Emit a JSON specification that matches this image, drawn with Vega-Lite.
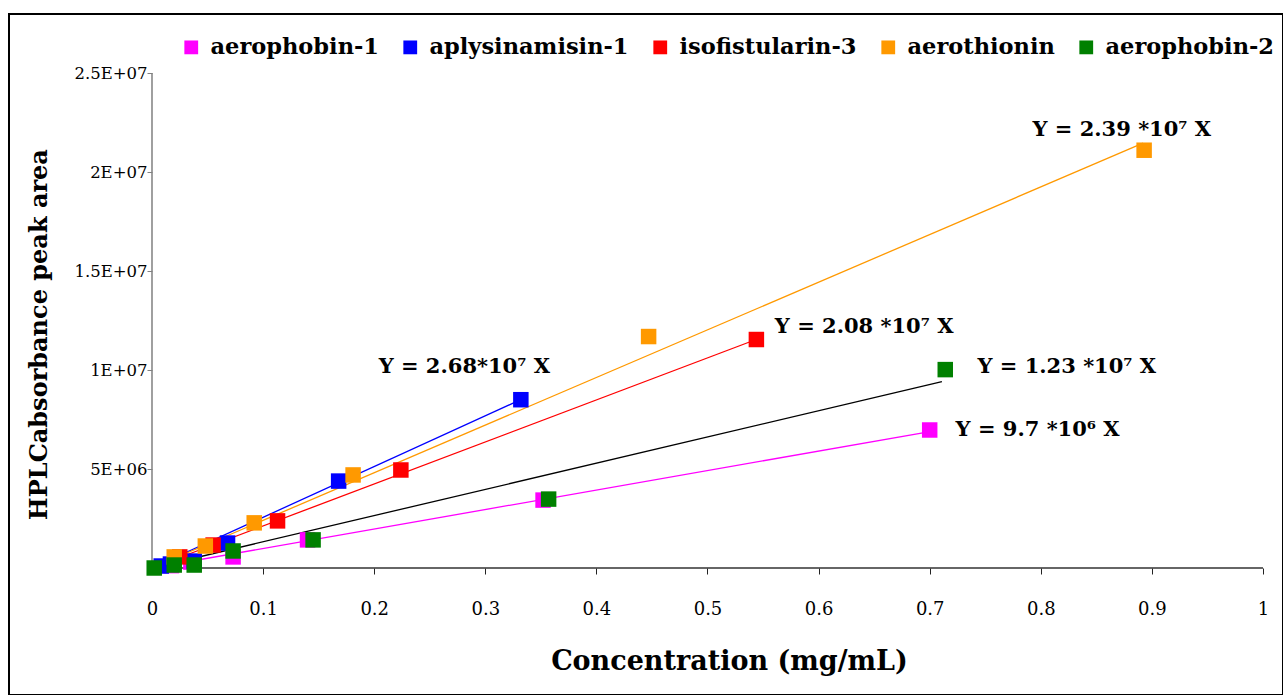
{
  "$schema": "https://vega.github.io/schema/vega-lite/v6.json",
  "width": 1274,
  "height": 681,
  "autosize": {"type": "none"},
  "padding": {"left": 9, "top": 14, "right": 0, "bottom": 0},
  "background": "#ffffff",
  "config": {
    "view": {"stroke": "#000000", "strokeWidth": 2},
    "font": "DejaVu Serif"
  },
  "datasets": {
    "points": [
      {"series": "aerophobin-1", "conc": 0.70, "area": 6970000},
      {"series": "aerophobin-1", "conc": 0.352, "area": 3430000},
      {"series": "aerophobin-1", "conc": 0.14, "area": 1420000},
      {"series": "aerophobin-1", "conc": 0.073, "area": 560000},
      {"series": "aerophobin-1", "conc": 0.035, "area": 300000},
      {"series": "aerophobin-1", "conc": 0.0175, "area": 120000},
      {"series": "aplysinamisin-1", "conc": 0.332, "area": 8500000},
      {"series": "aplysinamisin-1", "conc": 0.168, "area": 4390000},
      {"series": "aplysinamisin-1", "conc": 0.068, "area": 1260000},
      {"series": "aplysinamisin-1", "conc": 0.038, "area": 350000},
      {"series": "aplysinamisin-1", "conc": 0.0166, "area": 200000},
      {"series": "aplysinamisin-1", "conc": 0.0083, "area": 100000},
      {"series": "isofistularin-3", "conc": 0.544, "area": 11540000},
      {"series": "isofistularin-3", "conc": 0.224, "area": 4950000},
      {"series": "isofistularin-3", "conc": 0.113, "area": 2380000},
      {"series": "isofistularin-3", "conc": 0.055, "area": 1160000},
      {"series": "isofistularin-3", "conc": 0.025, "area": 560000},
      {"series": "aerothionin", "conc": 0.893, "area": 21100000},
      {"series": "aerothionin", "conc": 0.447, "area": 11690000},
      {"series": "aerothionin", "conc": 0.181, "area": 4700000},
      {"series": "aerothionin", "conc": 0.092, "area": 2280000},
      {"series": "aerothionin", "conc": 0.048, "area": 1110000},
      {"series": "aerothionin", "conc": 0.02, "area": 560000},
      {"series": "aerophobin-2", "conc": 0.714, "area": 10020000},
      {"series": "aerophobin-2", "conc": 0.357, "area": 3480000},
      {"series": "aerophobin-2", "conc": 0.145, "area": 1420000},
      {"series": "aerophobin-2", "conc": 0.073, "area": 860000},
      {"series": "aerophobin-2", "conc": 0.038, "area": 150000},
      {"series": "aerophobin-2", "conc": 0.02, "area": 150000},
      {"series": "aerophobin-2", "conc": 0.002, "area": 0}
    ],
    "fits": [
      {"fit": "aerophobin-1", "conc": 0, "area": 0},
      {"fit": "aerophobin-1", "conc": 0.699, "area": 6880000},
      {"fit": "aplysinamisin-1", "conc": 0, "area": 0},
      {"fit": "aplysinamisin-1", "conc": 0.326, "area": 8350000},
      {"fit": "isofistularin-3", "conc": 0, "area": 0},
      {"fit": "isofistularin-3", "conc": 0.539, "area": 11440000},
      {"fit": "aerothionin", "conc": 0, "area": 0},
      {"fit": "aerothionin", "conc": 0.892, "area": 21460000},
      {"fit": "aerophobin-2", "conc": 0, "area": 0},
      {"fit": "aerophobin-2", "conc": 0.711, "area": 9410000}
    ],
    "equations": [
      {"label": "Y = 2.39 *10⁷ X", "conc": 0.7925, "area": 22100000},
      {"label": "Y = 2.08 *10⁷ X", "conc": 0.5606, "area": 12150000},
      {"label": "Y = 2.68*10⁷ X", "conc": 0.204, "area": 10170000},
      {"label": "Y = 1.23 *10⁷ X", "conc": 0.743, "area": 10170000},
      {"label": "Y = 9.7 *10⁶ X", "conc": 0.7233, "area": 6980000}
    ],
    "xline": [{"x": 0, "x2": 1, "y": 0}],
    "yline": [{"x": 0, "y": 0, "y2": 25000000}]
  },
  "encoding": {
    "x": {
      "field": "conc",
      "type": "quantitative",
      "scale": {"domain": [-0.12871, 1.018], "nice": false, "zero": false},
      "axis": {
        "orient": "bottom",
        "offset": -127,
        "values": [0, 0.1, 0.2, 0.3, 0.4, 0.5, 0.6, 0.7, 0.8, 0.9, 1],
        "format": "~g",
        "domain": false,
        "grid": false,
        "ticks": true,
        "tickSize": 6,
        "tickColor": "#222222",
        "labelFont": "DejaVu Serif",
        "labelFontSize": 18,
        "labelColor": "#000000",
        "labelPadding": 26,
        "title": "Concentration (mg/mL)",
        "titleFont": "DejaVu Serif",
        "titleFontWeight": "bold",
        "titleFontSize": 27,
        "titleColor": "#000000",
        "titlePadding": 30,
        "titleX": 720
      }
    },
    "y": {
      "field": "area",
      "type": "quantitative",
      "scale": {"domain": [-6414000, 27980000], "nice": false, "zero": false},
      "axis": {
        "orient": "left",
        "offset": -143,
        "values": [5000000, 10000000, 15000000, 20000000, 25000000],
        "labelExpr": "upper(replace(format(datum.value, '~e'), '+', '+0'))",
        "domain": false,
        "grid": false,
        "tickSize": 5,
        "tickColor": "#808080",
        "labelFont": "DejaVu Serif",
        "labelFontSize": 16.5,
        "labelColor": "#000000",
        "labelPadding": 0,
        "title": "HPLCabsorbance peak area",
        "titleFont": "DejaVu Serif",
        "titleFontWeight": "bold",
        "titleFontSize": 24,
        "titleColor": "#000000",
        "titlePadding": 22,
        "titleY": 320
      }
    }
  },
  "layer": [
    {
      "data": {"name": "xline"},
      "mark": {"type": "rule", "strokeWidth": 1.5, "color": "#333333"},
      "encoding": {
        "x": {"field": "x", "type": "quantitative"},
        "x2": {"field": "x2"},
        "y": {"field": "y", "type": "quantitative"}
      }
    },
    {
      "data": {"name": "yline"},
      "mark": {"type": "rule", "strokeWidth": 1.5, "color": "#808080"},
      "encoding": {
        "x": {"field": "x", "type": "quantitative"},
        "y": {"field": "y", "type": "quantitative"},
        "y2": {"field": "y2"}
      }
    },
    {
      "data": {"name": "fits"},
      "mark": {"type": "line", "strokeWidth": 1.3},
      "encoding": {
        "stroke": {
          "field": "fit",
          "type": "nominal",
          "scale": {
            "domain": ["aerophobin-1", "aplysinamisin-1", "isofistularin-3", "aerothionin", "aerophobin-2"],
            "range": ["#ff00ff", "#0000ff", "#ff0000", "#ff9900", "#000000"]
          },
          "legend": null
        }
      }
    },
    {
      "data": {"name": "points"},
      "mark": {"type": "point", "shape": "square", "filled": true, "opacity": 1, "size": 240},
      "encoding": {
        "color": {
          "field": "series",
          "type": "nominal",
          "sort": null,
          "scale": {
            "domain": ["aerophobin-1", "aplysinamisin-1", "isofistularin-3", "aerothionin", "aerophobin-2"],
            "range": ["#ff00ff", "#0000ff", "#ff0000", "#ff9900", "#008000"]
          },
          "legend": {
            "title": null,
            "orient": "none",
            "legendX": 171,
            "legendY": 22,
            "direction": "horizontal",
            "symbolType": "square",
            "symbolSize": 190,
            "symbolStrokeWidth": 0,
            "symbolOpacity": 1,
            "labelFont": "DejaVu Serif",
            "labelFontWeight": "bold",
            "labelFontSize": 22.5,
            "labelColor": "#000000",
            "labelLimit": 400,
            "labelOffset": 8,
            "columnPadding": 20
          }
        }
      }
    },
    {
      "data": {"name": "equations"},
      "mark": {"type": "text", "align": "left", "baseline": "middle", "font": "DejaVu Serif", "fontWeight": "bold", "fontSize": 21, "color": "#000000"},
      "encoding": {
        "text": {"field": "label", "type": "nominal"}
      }
    }
  ],
  "resolve": {"scale": {"color": "independent", "stroke": "independent"}, "legend": {"color": "independent", "stroke": "independent"}}
}
